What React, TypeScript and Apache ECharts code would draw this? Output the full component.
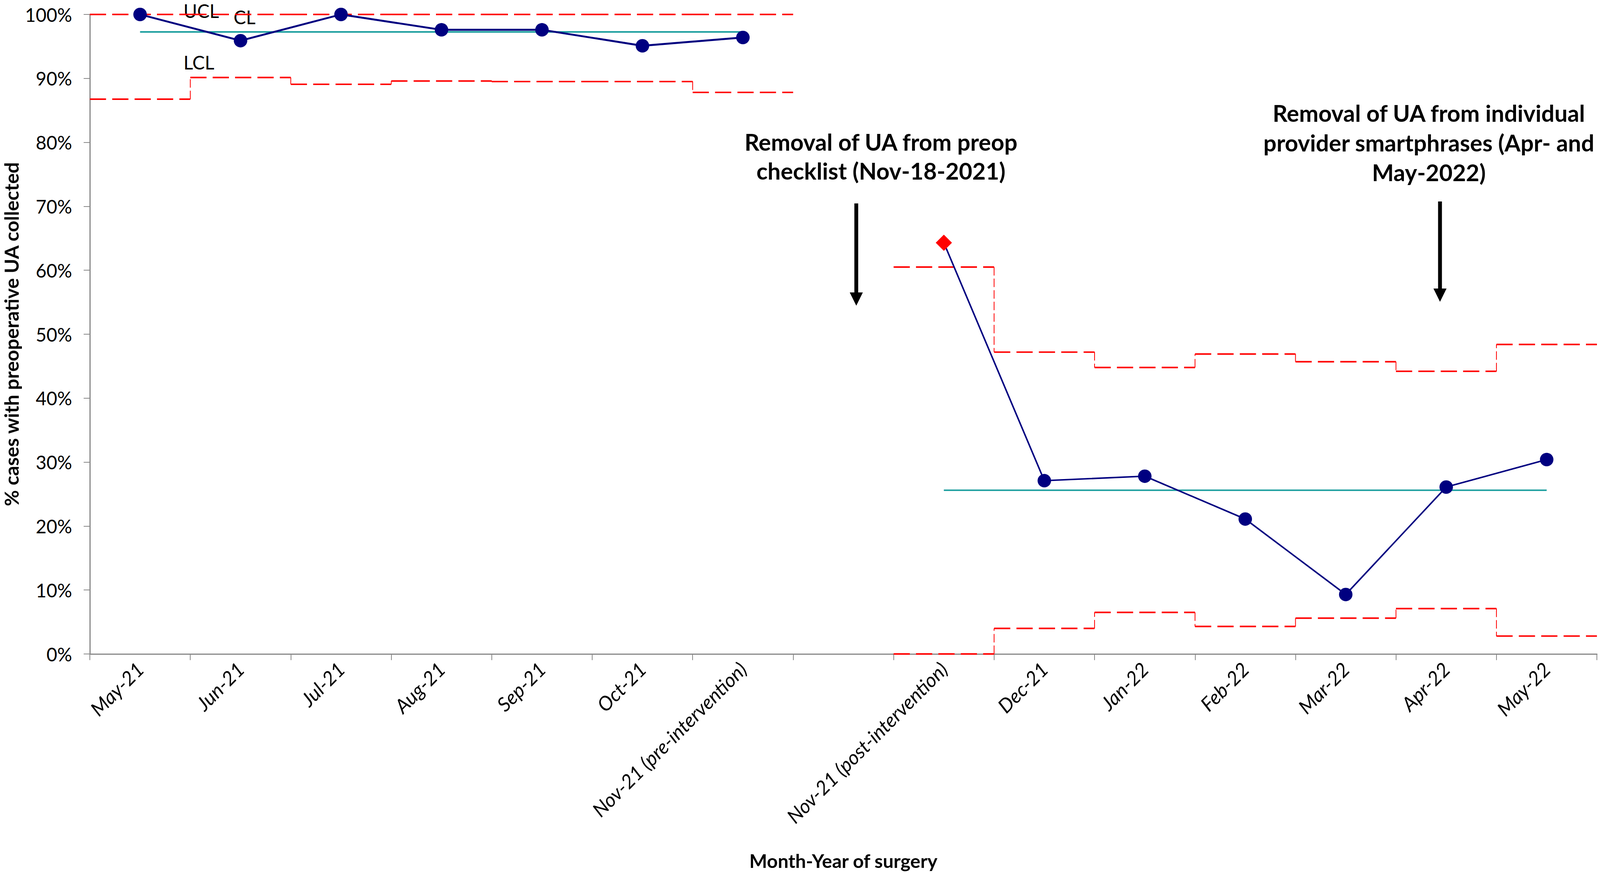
import React, { useEffect, useRef } from "react";
import * as echarts from "echarts";

const categories = [
  "May-21", "Jun-21", "Jul-21", "Aug-21", "Sep-21", "Oct-21", "Nov-21 (pre-intervention)",
  "",
  "Nov-21 (post-intervention)", "Dec-21", "Jan-22", "Feb-22", "Mar-22", "Apr-22", "May-22",
];

const preStart = 0;
const postStart = 8;

const preValues = [1.0, 0.959, 1.0, 0.976, 0.976, 0.951, 0.964];
const postValues = [0.643, 0.271, 0.278, 0.211, 0.093, 0.261, 0.304];

const preCL = 0.9727;
const postCL = 0.256;

const preUCL = [1.0, 1.0, 1.0, 1.0, 1.0, 1.0, 1.0];
const preLCL = [0.8675, 0.9014, 0.8908, 0.8959, 0.8951, 0.8951, 0.8781];
const postUCL = [0.605, 0.472, 0.448, 0.469, 0.457, 0.442, 0.484];
const postLCL = [0.0, 0.040, 0.065, 0.043, 0.056, 0.071, 0.028];

const annotationLeft = "Removal of UA from preop\nchecklist (Nov-18-2021)";
const annotationRight = "Removal of UA from individual\nprovider smartphrases (Apr- and\nMay-2022)";

const FONT = "Lato, 'Open Sans', sans-serif";
const NAVY = "#000080";
const TEAL = "#169c9c";
const RED = "#ff0000";
const AXIS = "#888888";

function fullSeries(start: number, vals: any[]) {
  const out: any[] = categories.map(() => null);
  vals.forEach((v, i) => (out[start + i] = v));
  return out;
}

// horizontal part of a step limit: one segment across each category
function hSegs(start: number, vals: number[]) {
  const out: any[] = [];
  vals.forEach((v, i) => {
    out.push([start + i, v], [start + i + 1, v], [start + i + 1, "-"]);
  });
  return out;
}

// vertical connectors between consecutive limit levels
function vSegs(start: number, vals: number[]) {
  const out: any[] = [];
  for (let i = 1; i < vals.length; i++) {
    if (vals[i] === vals[i - 1]) continue;
    out.push([start + i, vals[i - 1]], [start + i, vals[i]], [start + i, "-"]);
  }
  return out;
}

export default function App() {
  const ref = useRef<HTMLDivElement>(null);
  useEffect(() => {
    if (!ref.current) return;
    const chart = echarts.init(ref.current, undefined, { renderer: "svg" });
    const W = chart.getWidth();
    const H = chart.getHeight();
    const sx = W / 4150;
    const sy = H / 2236;
    const s = Math.min(sx, sy);
    const X = (v: number) => v * sx;
    const Y = (v: number) => v * sy;
    const F = (v: number) => Math.round(v * s * 10) / 10;

    const arrow = (x: number, y1: number, y2: number) => ({
      type: "group",
      children: [
        { type: "rect", shape: { x: X(x - 5), y: Y(y1), width: X(10), height: Y(y2 - y1 - 30) }, style: { fill: "#000" } },
        {
          type: "polygon",
          shape: { points: [[X(x - 17), Y(y2 - 34)], [X(x + 17), Y(y2 - 34)], [X(x), Y(y2)]] },
          style: { fill: "#000" },
        },
      ],
    });

    const hStyle = { color: RED, width: F(4), type: [F(42), F(16)] as any };
    const vStyle = { color: RED, width: F(2), type: [F(22), F(8)] as any };
    const limitSeries = (start: number, vals: number[]) => [
      { type: "line", xAxisIndex: 1, data: hSegs(start, vals), symbol: "none", lineStyle: hStyle, connectNulls: false, z: 2 },
      { type: "line", xAxisIndex: 1, data: vSegs(start, vals), symbol: "none", lineStyle: vStyle, connectNulls: false, z: 2 },
    ];

    const postData = fullSeries(postStart, postValues);
    postData[postStart] = {
      value: postValues[0],
      symbol: "diamond",
      symbolSize: F(42),
      itemStyle: { color: RED },
    };
    const option: any = {
      animation: false,
      backgroundColor: "#fff",
      textStyle: { fontFamily: FONT },
      grid: {
        left: X(233), right: X(8), top: Y(37), bottom: Y(561),
        containLabel: false, outerBoundsMode: "none",
      },
      xAxis: [
        {
          type: "category",
          data: categories,
          boundaryGap: true,
          axisLine: { lineStyle: { color: AXIS, width: F(3) } },
          axisTick: { show: true, length: F(16), lineStyle: { color: AXIS, width: F(2) }, interval: 0 },
          axisLabel: {
            interval: 0,
            rotate: 45,
            margin: F(30),
            fontSize: F(51),
            fontStyle: "italic",
            color: "#000",
            fontFamily: FONT,
          },
          name: "Month-Year of surgery",
          nameLocation: "middle",
          nameGap: Y(505),
          nameTextStyle: { fontSize: F(49), fontWeight: "bold", color: "#000", fontFamily: FONT },
          splitLine: { show: false },
        },
        { type: "value", min: 0, max: categories.length, show: false },
      ],
      yAxis: {
        type: "value",
        min: 0,
        max: 1,
        interval: 0.1,
        axisLine: { show: true, lineStyle: { color: AXIS, width: F(3) } },
        axisTick: { show: true, length: F(16), lineStyle: { color: AXIS, width: F(2) } },
        axisLabel: {
          fontSize: F(48),
          margin: F(46),
          color: "#000",
          fontFamily: FONT,
          formatter: (v: number) => Math.round(v * 100) + "%",
        },
        splitLine: { show: false },
        name: "% cases with preoperative UA collected",
        nameLocation: "middle",
        nameRotate: 90,
        nameGap: X(160),
        nameTextStyle: { fontSize: F(51), fontWeight: "bold", color: "#000", fontFamily: FONT },
      },
      series: [
        ...limitSeries(preStart, preUCL),
        ...limitSeries(preStart, preLCL),
        ...limitSeries(postStart, postUCL),
        ...limitSeries(postStart, postLCL),
        {
          type: "line", xAxisIndex: 0,
          data: fullSeries(preStart, preValues.map(() => preCL)),
          symbol: "none", lineStyle: { color: TEAL, width: F(4) }, z: 3,
        },
        {
          type: "line", xAxisIndex: 0,
          data: fullSeries(postStart, postValues.map(() => postCL)),
          symbol: "none", lineStyle: { color: TEAL, width: F(4) }, z: 3,
        },
        {
          type: "line", xAxisIndex: 0,
          data: fullSeries(preStart, preValues),
          symbol: "circle", symbolSize: F(35),
          itemStyle: { color: NAVY },
          lineStyle: { color: NAVY, width: F(5) }, z: 4,
        },
        {
          type: "line", xAxisIndex: 0,
          data: postData,
          symbol: "circle", symbolSize: F(35),
          itemStyle: { color: NAVY },
          lineStyle: { color: NAVY, width: F(4) }, z: 4,
        },
      ],
      graphic: [
        { type: "text", left: X(476), top: Y(4), style: { text: "UCL", font: `${F(48)}px ${FONT}`, fill: "#000" } },
        { type: "text", left: X(606), top: Y(20), style: { text: "CL", font: `${F(48)}px ${FONT}`, fill: "#000" } },
        { type: "text", left: X(476), top: Y(136), style: { text: "LCL", font: `${F(48)}px ${FONT}`, fill: "#000" } },
        {
          type: "text", x: X(2285), y: Y(400),
          style: { text: annotationLeft, font: `bold ${F(60)}px ${FONT}`, fill: "#000", align: "center", verticalAlign: "middle", lineHeight: F(75) },
        },
        {
          type: "text", x: X(3706), y: Y(365),
          style: { text: annotationRight, font: `bold ${F(60)}px ${FONT}`, fill: "#000", align: "center", verticalAlign: "middle", lineHeight: F(77) },
        },
        arrow(2221, 521, 783),
        arrow(3735, 516, 773),
      ],
    };
    chart.setOption(option);
    return () => chart.dispose();
  }, []);
  return (
    <div
      ref={ref}
      style={{ position: "fixed", left: 0, top: 0, width: "100vw", height: "100vh", background: "#fff" }}
    />
  );
}
